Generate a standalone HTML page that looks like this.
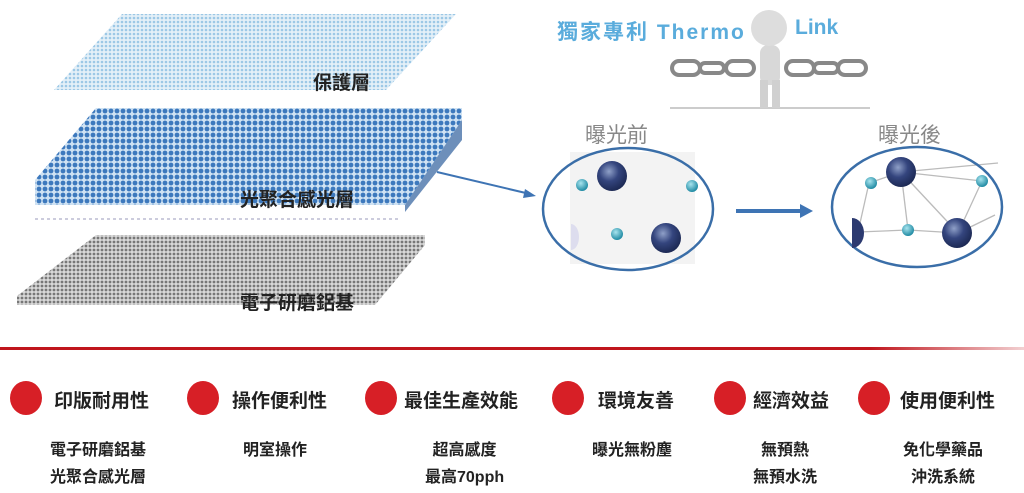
<!DOCTYPE html>
<html><head><meta charset="utf-8"><style>
body{margin:0;width:1024px;height:493px;background:#fff;overflow:hidden;position:relative;font-family:"Liberation Sans","Noto Sans CJK TC",sans-serif}
.t{position:absolute;font-weight:bold;color:#222;white-space:nowrap}
.c{position:absolute;width:32px;height:34px;border-radius:50%;background:#d71f26;top:381px}
</style></head><body>
<svg width="1024" height="493" style="position:absolute;left:0;top:0">
<defs>
<pattern id="pl" width="4" height="4" patternUnits="userSpaceOnUse"><rect width="4" height="4" fill="#e4f0f8"/><circle cx="2" cy="2" r="1.3" fill="#9cc8e6"/></pattern>
<pattern id="pb" width="6" height="6" patternUnits="userSpaceOnUse"><rect width="6" height="6" fill="#cfe2f3"/><circle cx="3" cy="3" r="2.4" fill="#3d79bd"/></pattern>
<pattern id="pg" width="4" height="4" patternUnits="userSpaceOnUse"><rect width="4" height="4" fill="#d8d8d8"/><circle cx="2" cy="2" r="1.4" fill="#777"/></pattern>
<radialGradient id="big" cx="40%" cy="35%" r="65%"><stop offset="0" stop-color="#8fa0c8"/><stop offset="0.5" stop-color="#34457e"/><stop offset="1" stop-color="#1d2a55"/></radialGradient>
<radialGradient id="sm" cx="40%" cy="35%" r="65%"><stop offset="0" stop-color="#a8e4ee"/><stop offset="1" stop-color="#1f8aa3"/></radialGradient>
<linearGradient id="red" x1="0" x2="1"><stop offset="0" stop-color="#c0161d"/><stop offset="0.85" stop-color="#c0161d"/><stop offset="1" stop-color="#c0161d" stop-opacity="0.2"/></linearGradient>
</defs>
<polygon points="122,14 456,14 386,90 54,90" fill="url(#pl)"/>
<polygon points="96,108 462,108 462,120 405,205 35,205 35,180" fill="url(#pb)"/>
<polygon points="405,205 462,120 462,140 405,212" fill="#2f5f9c" opacity="0.7"/>
<line x1="35" y1="219" x2="398" y2="219" stroke="#ccd" stroke-width="2" stroke-dasharray="3,3"/>
<polygon points="96,235 425,235 425,245 375,305 17,305 17,296" fill="url(#pg)"/>
<line x1="437" y1="172" x2="530" y2="194" stroke="#3e74b4" stroke-width="2"/>
<polygon points="536,196 525,189 523,198" fill="#3e74b4"/>
<line x1="736" y1="211" x2="800" y2="211" stroke="#3e74b4" stroke-width="4"/>
<polygon points="813,211 800,204 800,218" fill="#3e74b4"/>
<rect x="570" y="152" width="125" height="112" fill="#f3f3f3"/>
<ellipse cx="628" cy="209" rx="85" ry="61" fill="none" stroke="#3a6ea8" stroke-width="2.5"/>
<circle cx="612" cy="176" r="15" fill="url(#big)"/><circle cx="582" cy="185" r="6" fill="url(#sm)"/><circle cx="692" cy="186" r="6" fill="url(#sm)"/><circle cx="617" cy="234" r="6" fill="url(#sm)"/><circle cx="666" cy="238" r="15" fill="url(#big)"/>
<path d="M571 224 a8 13 0 0 1 0 26" fill="#dde" />
<g stroke="#bbb" stroke-width="1.3"><line x1="869" y1="183" x2="901" y2="172"/><line x1="901" y1="172" x2="982" y2="181"/><line x1="901" y1="172" x2="908" y2="230"/><line x1="901" y1="172" x2="958" y2="233"/><line x1="869" y1="183" x2="858" y2="232"/><line x1="858" y1="232" x2="908" y2="230"/><line x1="908" y1="230" x2="958" y2="233"/><line x1="982" y1="181" x2="958" y2="233"/><line x1="901" y1="172" x2="998" y2="163"/><line x1="958" y1="233" x2="995" y2="215"/></g>
<ellipse cx="917" cy="207" rx="85" ry="60" fill="none" stroke="#3a6ea8" stroke-width="2.5"/>
<circle cx="901" cy="172" r="15" fill="url(#big)"/><circle cx="871" cy="183" r="6" fill="url(#sm)"/><circle cx="982" cy="181" r="6" fill="url(#sm)"/><circle cx="908" cy="230" r="6" fill="url(#sm)"/><circle cx="957" cy="233" r="15" fill="url(#big)"/>
<path d="M852 218 a12 15 0 0 1 0 30 z" fill="#2c3a70"/>
<line x1="670" y1="108" x2="870" y2="108" stroke="#ccc" stroke-width="2"/>
<rect x="760" y="45" width="20" height="40" rx="8" fill="#d8d8d8"/>
<rect x="760" y="80" width="8" height="28" fill="#d0d0d0"/><rect x="772" y="80" width="8" height="28" fill="#d0d0d0"/>
<circle cx="769" cy="28" r="18" fill="#ddd"/>
<g fill="none" stroke="#888" stroke-width="4"><rect x="672" y="61" width="28" height="14" rx="7"/><rect x="700" y="63" width="24" height="10" rx="5"/><rect x="726" y="61" width="28" height="14" rx="7"/><rect x="786" y="61" width="28" height="14" rx="7"/><rect x="814" y="63" width="24" height="10" rx="5"/><rect x="838" y="61" width="28" height="14" rx="7"/></g>
<rect x="0" y="347" width="1024" height="3" fill="url(#red)"/>
</svg>
<div class="t" style="left:313px;top:68px;font-size:19px">保護層</div>
<div class="t" style="left:240px;top:185px;font-size:19px">光聚合感光層</div>
<div class="t" style="left:240px;top:288px;font-size:19px">電子研磨鋁基</div>
<div class="t" style="left:557px;top:16px;font-size:21px;color:#5aacdc;letter-spacing:2px">獨家專利 Thermo</div>
<div class="t" style="left:795px;top:16px;font-size:21px;color:#5aacdc">Link</div>
<div class="t" style="left:585px;top:119px;font-size:21px;color:#888;font-weight:normal">曝光前</div>
<div class="t" style="left:878px;top:119px;font-size:21px;color:#888;font-weight:normal">曝光後</div>
<div class="c" style="left:10px"></div><div class="c" style="left:187px"></div><div class="c" style="left:365px"></div><div class="c" style="left:552px"></div><div class="c" style="left:714px"></div><div class="c" style="left:858px"></div>
<div class="t" style="left:54px;top:386px;font-size:19px">印版耐用性</div>
<div class="t" style="left:232px;top:386px;font-size:19px">操作便利性</div>
<div class="t" style="left:404px;top:386px;font-size:19px">最佳生產效能</div>
<div class="t" style="left:598px;top:386px;font-size:19px">環境友善</div>
<div class="t" style="left:753px;top:386px;font-size:19px">經濟效益</div>
<div class="t" style="left:900px;top:386px;font-size:19px">使用便利性</div>
<div class="t" style="left:50px;top:437px;font-size:16px;line-height:27px;text-align:center">電子研磨鋁基<br>光聚合感光層</div>
<div class="t" style="left:243px;top:437px;font-size:16px;line-height:27px">明室操作</div>
<div class="t" style="left:425px;top:437px;font-size:16px;line-height:27px;text-align:center">超高感度<br>最高70pph</div>
<div class="t" style="left:592px;top:437px;font-size:16px;line-height:27px">曝光無粉塵</div>
<div class="t" style="left:753px;top:437px;font-size:16px;line-height:27px;text-align:center">無預熱<br>無預水洗</div>
<div class="t" style="left:903px;top:437px;font-size:16px;line-height:27px;text-align:center">免化學藥品<br>沖洗系統</div>
</body></html>
